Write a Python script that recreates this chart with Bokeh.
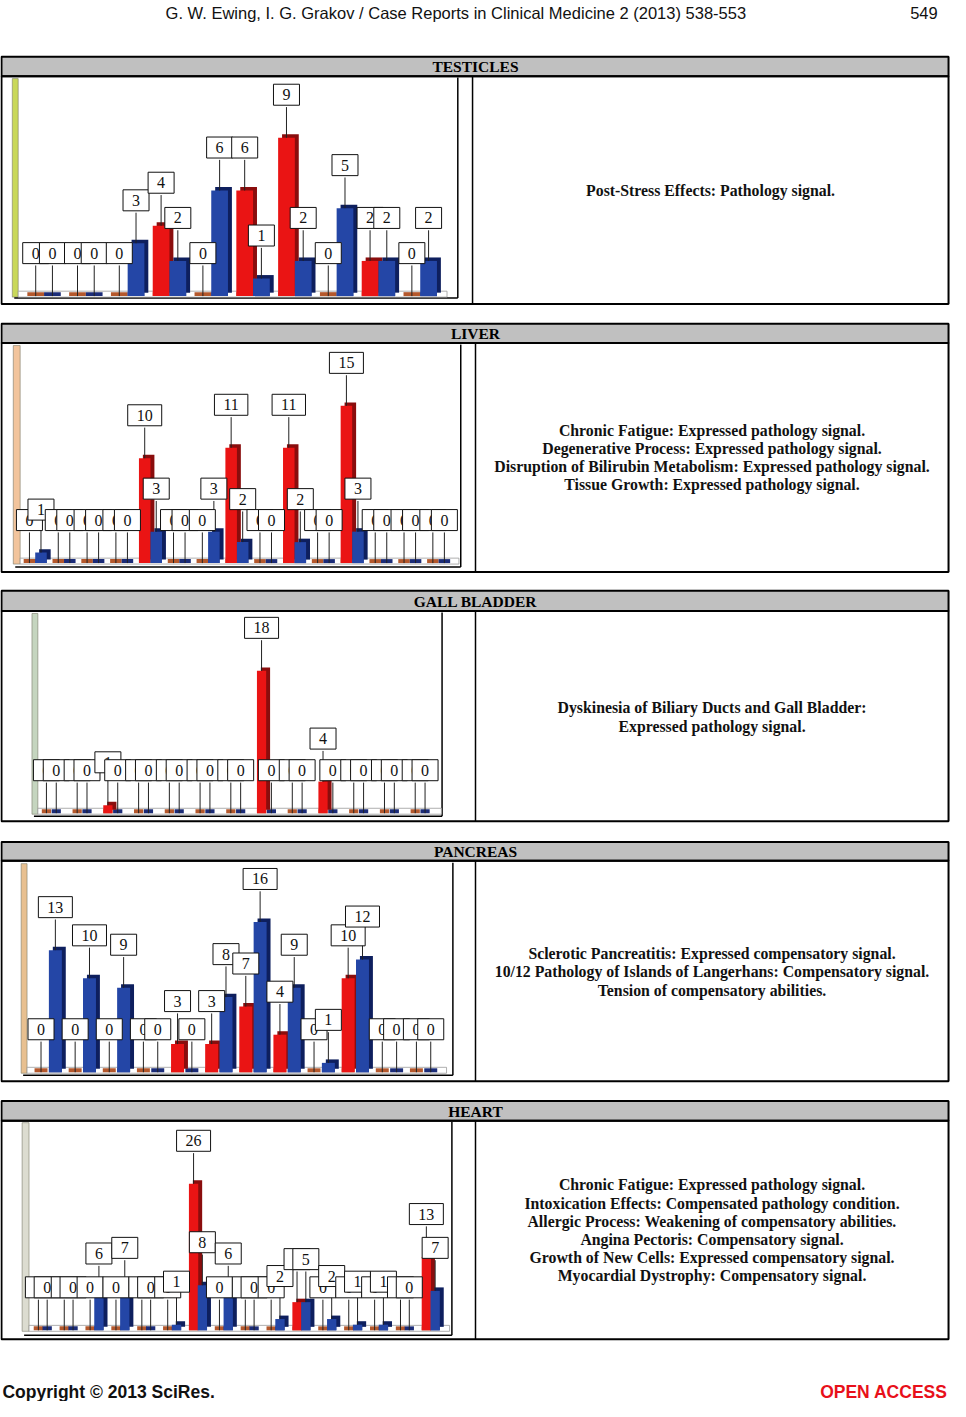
from bokeh.plotting import figure
from bokeh.models import Range1d, ColumnDataSource
from bokeh.embed import file_html
from bokeh.resources import INLINE
from bokeh.core.properties import value

# ---------------- data ----------------
header_text = "G. W. Ewing, I. G. Grakov / Case Reports in Clinical Medicine 2 (2013) 538-553"
page_number = "549"
footer_left = "Copyright \u00a9 2013 SciRes."
footer_right = "OPEN ACCESS"

titles = ["TESTICLES", "LIVER", "GALL BLADDER", "PANCREAS", "HEART"]

testicles_red = [0, 0, 0, 4, 0, 6, 9, 0, 2, 0]
testicles_blue = [0, 0, 3, 2, 6, 1, 2, 5, 2, 2]

liver_red = [0, 0, 0, 0, 10, 0, 0, 11, 0, 11, 0, 15, 0, 0, 0]
liver_blue = [1, 0, 0, 0, 3, 0, 3, 2, 0, 2, 0, 3, 0, 0, 0]

gall_red = [0, 0, 1, 0, 0, 0, 0, 18, 0, 4, 0, 0, 0]
gall_blue = [0, 0, 0, 0, 0, 0, 0, 0, 0, 0, 0, 0, 0]

pancreas_red = [0, 0, 0, 0, 3, 3, 7, 4, 0, 10, 0, 0]
pancreas_blue = [13, 10, 9, 0, 0, 8, 16, 9, 1, 12, 0, 0]

heart_red = [0, 0, 0, 0, 0, 0, 26, 0, 0, 0, 5, 0, 0, 0, 0, 13]
heart_blue = [0, 0, 6, 7, 0, 1, 8, 6, 0, 2, 5, 2, 1, 1, 0, 7]

testicles_notes = ["Post-Stress Effects: Pathology signal."]
liver_notes = [
    "Chronic Fatigue: Expressed pathology signal.",
    "Degenerative Process: Expressed pathology signal.",
    "Disruption of Bilirubin Metabolism: Expressed pathology signal.",
    "Tissue Growth: Expressed pathology signal.",
]
gall_notes = [
    "Dyskinesia of Biliary Ducts and Gall Bladder:",
    "Expressed pathology signal.",
]
pancreas_notes = [
    "Sclerotic Pancreatitis: Expressed compensatory signal.",
    "10/12 Pathology of Islands of Langerhans: Compensatory signal.",
    "Tension of compensatory abilities.",
]
heart_notes = [
    "Chronic Fatigue: Expressed pathology signal.",
    "Intoxication Effects: Compensated pathology condition.",
    "Allergic Process: Weakening of compensatory abilities.",
    "Angina Pectoris: Compensatory signal.",
    "Growth of New Cells: Expressed compensatory signal.",
    "Myocardial Dystrophy: Compensatory signal.",
]

# ---------------- layout / style ----------------
PW, PH = 966, 1417
W, H = 950, 1401

RED, RED_SIDE, RED_STUB = "#ea1414", "#8a0d0d", "#b4582c"
BLUE, BLUE_SIDE, BLUE_STUB = "#2446a6", "#0e1f5e", "#1b2c78"

tables = [
    dict(top=57, tb=76.5, bottom=307, div=480, note_y=[192]),
    dict(top=327, tb=346.5, bottom=578, div=483, note_y=[434.5, 453, 471.5, 490]),
    dict(top=597, tb=617.5, bottom=830, div=483, note_y=[715, 734]),
    dict(top=851, tb=870, bottom=1093, div=483, note_y=[964, 982.5, 1001]),
    dict(top=1113, tb=1133, bottom=1354, div=483,
         note_y=[1198, 1216.5, 1235, 1253.3, 1271.7, 1290]),
]

charts = [
    dict(red=testicles_red, blue=testicles_blue, notes=testicles_notes,
         c0=44.3, s=42.5, base=299, ppu=17.8, w=0.40, off=0.20,
         wall=(12, 18), ctop=79, cbot=301, right=465, wall_color="#c9d85a"),
    dict(red=liver_red, blue=liver_blue, notes=liver_notes,
         c0=35.3, s=29.3, base=569, ppu=10.6, w=0.40, off=0.20,
         wall=(13, 20), ctop=349, cbot=573, right=468, wall_color="#f2c49c"),
    dict(red=gall_red, blue=gall_blue, notes=gall_notes,
         c0=51.7, s=31.25, base=822, ppu=8.0, w=0.30, off=0.16,
         wall=(32, 38), ctop=620, cbot=825, right=449, wall_color="#c5d5bf"),
    dict(red=pancreas_red, blue=pancreas_blue, notes=pancreas_notes,
         c0=48.5, s=34.7, base=1084, ppu=9.5, w=0.38, off=0.21,
         wall=(21, 27), ctop=873, cbot=1087, right=460, wall_color="#e8c090"),
    dict(red=heart_red, blue=heart_blue, notes=heart_notes,
         c0=43.0, s=26.3, base=1345, ppu=5.7, w=0.36, off=0.17,
         wall=(22, 29), ctop=1135, cbot=1350, right=459, wall_color="#dcdcd0"),
]

p = figure(width=W, height=H, x_range=Range1d(0, PW), y_range=Range1d(PH, 0),
           output_backend="svg", toolbar_location=None, min_border=0,
           x_axis_location=None, y_axis_location=None)
p.grid.visible = False
p.outline_line_color = None
p.background_fill_color = "white"
p.border_fill_color = "white"

serif = value("Liberation Serif")
narrow = value("Liberation Sans Narrow, Liberation Sans, Arial Narrow, sans-serif")

# header / footer
p.text(x=[463], y=[13], text=[header_text], text_font=narrow, text_font_size="16.5px",
       text_align="center", text_baseline="middle", text_color="#111111")
p.text(x=[953], y=[13], text=[page_number], text_font=narrow, text_font_size="16.5px",
       text_align="right", text_baseline="middle", text_color="#111111")
p.text(x=[2], y=[1407], text=[footer_left], text_font=narrow, text_font_size="17.5px",
       text_font_style="bold", text_align="left", text_baseline="middle", text_color="#111111")
p.text(x=[963], y=[1407], text=[footer_right], text_font=narrow, text_font_size="17.5px",
       text_font_style="bold", text_align="right", text_baseline="middle", text_color="#e8101a")

for i, (tb, ch, title) in enumerate(zip(tables, charts, titles)):
    # table frame
    p.quad(left=[1], right=[964], top=[tb["top"]], bottom=[tb["tb"]],
           fill_color="#c0c0c0", line_color="black", line_width=2)
    p.quad(left=[1], right=[964], top=[tb["tb"]], bottom=[tb["bottom"]],
           fill_color=None, line_color="black", line_width=2)
    p.segment(x0=[tb["div"]], y0=[tb["tb"]], x1=[tb["div"]], y1=[tb["bottom"]],
              line_color="black", line_width=1.5)
    p.text(x=[483], y=[(tb["top"] + tb["tb"]) / 2 + 0.5], text=[title], text_font=serif,
           text_font_size="15.5px", text_font_style="bold", text_align="center",
           text_baseline="middle", text_color="black")
    cx = (tb["div"] + 964) / 2
    p.text(x=[cx] * len(ch["notes"]), y=tb["note_y"], text=ch["notes"], text_font=serif,
           text_font_size="15.8px", text_font_style="bold", text_align="center",
           text_baseline="middle", text_color="#111111")

    # chart panel
    wx0, wx1 = ch["wall"]
    p.quad(left=[wx0], right=[wx1], top=[ch["ctop"]], bottom=[ch["base"] + 1],
           fill_color=ch["wall_color"], line_color="#7a7a6a", line_width=0.6)
    p.segment(x0=[ch["right"]], y0=[ch["ctop"] - 1], x1=[ch["right"]], y1=[ch["cbot"]],
              line_color="black", line_width=1.5)
    p.segment(x0=[wx0 + 2], y0=[ch["cbot"]], x1=[ch["right"]], y1=[ch["cbot"]],
              line_color="black", line_width=1.5)
    n = len(ch["red"])
    floor_right = ch["c0"] + (n - 0.5) * ch["s"] + 6
    p.quad(left=[wx1], right=[floor_right], top=[ch["base"] - 5], bottom=[ch["base"] + 1],
           fill_color="white", line_color="#9a9a9a", line_width=0.8)

    # per-chart scales
    name = "c%d" % i
    s, ppu, c0, base = ch["s"], ch["ppu"], ch["c0"], ch["base"]
    p.extra_x_ranges[name] = Range1d(start=(0 - c0) / s, end=(PW - c0) / s)
    p.extra_y_ranges[name] = Range1d(start=(base - PH) / ppu, end=base / ppu)

    xs, tops, fronts, sides, stubs, labels = [], [], [], [], [], []
    for g in range(n):
        for v, dx, fc, sc, stc in ((ch["red"][g], -ch["off"], RED, RED_SIDE, RED_STUB),
                                   (ch["blue"][g], ch["off"], BLUE, BLUE_SIDE, BLUE_STUB)):
            xs.append(g + dx)
            tops.append(v)
            fronts.append(fc)
            sides.append(sc)
            stubs.append(stc)
            labels.append(str(v))
    src = ColumnDataSource(dict(
        x=xs, top=tops, front=fronts, side=sides, stub=stubs, label=labels,
        sx=[x + 4.0 / s for x in xs],
        sbot=[3.5 / ppu] * len(xs),
        stop=[t + 3.5 / ppu for t in tops],
        stubtop=[4.0 / ppu] * len(xs),
        lead=[t + 31.0 / ppu for t in tops],
    ))
    nz = [k for k, t in enumerate(tops) if t > 0]
    src_nz = ColumnDataSource({k: [v[j] for j in nz] for k, v in src.data.items()})

    kw = dict(x_range_name=name, y_range_name=name)
    p.vbar(x="x", bottom=0, top="stubtop", width=ch["w"], source=src,
           fill_color="stub", line_color=None, **kw)
    p.vbar(x="sx", bottom="sbot", top="stop", width=ch["w"], source=src_nz,
           fill_color="side", line_color=None, **kw)
    p.vbar(x="x", bottom=0, top="top", width=ch["w"], source=src_nz,
           fill_color="front", line_color=None, **kw)
    p.segment(x0="x", y0="top", x1="x", y1="lead", source=src,
              line_color="#222222", line_width=1, **kw)
    p.text(x="x", y="top", text="label", source=src, y_offset=-43,
           text_align="center", text_baseline="middle", text_font=serif,
           text_font_size="16px", text_color="#111111",
           background_fill_color="white", border_line_color="#111111",
           border_line_width=1, padding=dict(left=9, right=9, top=5, bottom=5), **kw)

open("out.html", "w").write(file_html(p, INLINE))
